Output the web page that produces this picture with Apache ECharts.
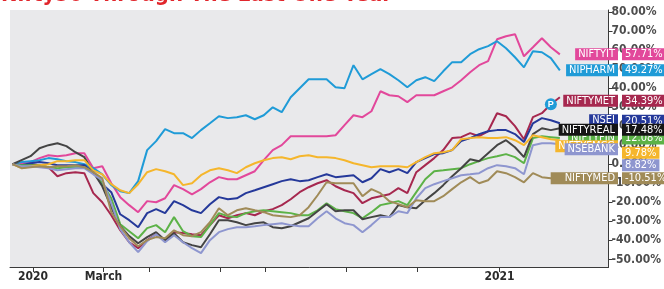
<!DOCTYPE html>
<html>
<head>
<meta charset="utf-8">
<script src="https://cdn.jsdelivr.net/npm/echarts@6/dist/echarts.min.js"></script>
<style>
    html, body { margin: 0; padding: 0; background: #fff; }
    #chart { width: 664px; height: 289px; }
</style>
</head>
<body>
<div id="chart"></div>
<script>
    // weekly closes, % change since the first week
    var dates = ['2019-12-17','2019-12-24','2019-12-31','2020-01-07','2020-01-14','2020-01-21','2020-01-28','2020-02-04','2020-02-11','2020-02-18',
        '2020-02-25','2020-03-03','2020-03-10','2020-03-17','2020-03-24','2020-03-31','2020-04-07','2020-04-14','2020-04-21','2020-04-28',
        '2020-05-05','2020-05-12','2020-05-19','2020-05-26','2020-06-02','2020-06-09','2020-06-16','2020-06-23','2020-06-30','2020-07-07',
        '2020-07-14','2020-07-21','2020-07-28','2020-08-04','2020-08-11','2020-08-18','2020-08-25','2020-09-01','2020-09-08','2020-09-15',
        '2020-09-22','2020-09-29','2020-10-06','2020-10-13','2020-10-20','2020-10-27','2020-11-03','2020-11-10','2020-11-17','2020-11-24',
        '2020-12-01','2020-12-08','2020-12-15','2020-12-22','2020-12-29','2021-01-05','2021-01-12','2021-01-19','2021-01-26','2021-02-02',
        '2021-02-09','2021-02-16'];

    var niftyIT = [0,0.5,1.1,3.2,4.7,4.2,4.7,5.8,5.8,-2.1,
        -1.1,-10,-17.3,-21.5,-25.2,-19.4,-20,-17.9,-11,-13.1,
        -15.8,-13.1,-9.5,-6.8,-7.9,-7.9,-5.8,-3.7,2.1,7.4,
        10,14.7,14.7,14.7,14.7,14.7,15.2,20.5,25.7,24.7,
        27.8,38.3,36.2,35.7,32.6,36.2,36.2,36.2,38.3,40.4,
        44.1,48.3,52,54.1,65.6,67.2,68.3,56.7,61.4,66.2,
        61.4,57.7];
    var niPharm = [0,1.1,1.6,2.1,3.2,2.6,1.6,1.1,0,-2.1,
        -5.3,-11,-14.2,-15.2,-8.9,7.4,12.1,18.4,16.3,16.3,
        13.7,17.9,21.5,25.2,24.2,24.7,25.7,23.6,25.7,29.9,
        27.3,35.2,39.9,44.6,44.6,44.6,40.4,39.9,52,44.6,
        47.3,49.9,47.3,44.1,40.4,44.1,45.7,43.6,48.8,53.6,
        53.6,57.8,60.4,62,64.6,60.9,56.2,50.9,59.3,58.8,
        55.7,49.3];
    var niftyMet = [0,-0.5,0,-0.5,-1.6,-6.3,-4.7,-4.2,-4.7,-15.2,
        -20,-26.8,-34.7,-41,-44.1,-39.9,-36.8,-39.9,-35.7,-36.2,
        -36.8,-37.3,-32,-26.8,-28.4,-26.8,-25.7,-26.8,-24.7,-23.6,
        -21.5,-18.4,-14.7,-12.1,-10,-8.4,-11.6,-13.7,-15.2,-20.5,
        -17.9,-16.8,-15.8,-12.6,-15.2,-4.2,-0.5,3.2,7.4,13.7,
        14.2,16.3,14.7,17.3,26.8,25.2,20,13.1,24.7,26.8,
        31.5,35.2];
    var nsei = [0,-0.5,0.5,1.1,0.5,-0.5,-0.5,-0.5,-0.5,-4.2,
        -10.5,-14.7,-26.3,-29.4,-33.1,-25.7,-23.6,-25.7,-19.4,-21.5,
        -24.2,-25.7,-21,-17.3,-18.4,-17.9,-15.2,-13.7,-12.1,-10.5,
        -8.9,-7.9,-8.9,-8.4,-6.8,-5.3,-6.8,-6.3,-5.8,-9.5,
        -7.4,-2.6,-4.2,-2.6,-4.7,1.1,3.2,5.3,5.8,7.4,
        12.1,13.7,15.8,17.3,17.9,17.9,15.8,11.6,21.5,24.2,
        23.1,21.5];
    var niftyFin = [0,-0.5,-0.5,-0.5,-1.6,-2.1,-1.6,-1.6,-1.6,-4.2,
        -10,-17.9,-31.5,-35.2,-38.9,-33.6,-32,-35.7,-27.8,-35.2,
        -37.8,-38.3,-32,-25.7,-27.3,-27.8,-25.7,-24.7,-24.2,-24.7,
        -25.2,-25.7,-26.8,-26.8,-24.2,-20.5,-23.6,-24.7,-25.7,-28.4,
        -25.2,-21.5,-20.5,-19.4,-21.5,-14.7,-7.9,-3.7,-3.2,-2.6,
        -2.1,0,1.6,3.2,4.2,5.3,3.7,0.5,13.7,14.7,
        14.2,13.7];
    var niftyReal = [0,2.1,4.2,8.4,10,11,9.5,6.3,3.7,-4.2,
        -11.6,-22.6,-32.6,-37.8,-41.5,-38.3,-35.7,-39.9,-36.2,-41,
        -42.5,-43.6,-36.8,-29.4,-29.4,-30.5,-32,-31,-30.5,-33.1,
        -33.6,-32.6,-30.5,-28.4,-24.7,-21,-24.7,-24.2,-24.2,-28.9,
        -27.8,-26.8,-27.8,-21.5,-22.6,-23.1,-18.9,-15.2,-11,-6.3,
        -2.1,2.6,1.6,5.8,10,12.6,8.9,3.7,15.8,18.9,
        17.9,18.9];
    var niftyFmcg = [0,-2.1,-1.1,-0.5,0,1.6,1.6,2.1,2.1,-3.2,
        -5.3,-10.5,-13.7,-15.2,-10.5,-4.2,-2.6,-3.7,-5.3,-11,
        -10,-5.8,-3.2,-2.1,-3.2,-4.7,-1.6,0.5,2.1,3.2,
        3.7,2.6,4.2,4.7,3.7,3.7,3.2,2.1,0.5,-0.5,
        -1.6,-1.1,-1.1,-1.1,-1.6,1.1,3.7,5.8,6.3,7.4,
        13.1,13.7,14.2,13.7,13.7,14.2,12.6,10,15.2,14.2,
        13.1,12.6];
    var nseBank = [0,-1.1,-1.1,-1.6,-2.1,-3.2,-2.6,-2.1,-2.1,-5.3,
        -8.4,-20.5,-34.1,-41,-46.2,-40.4,-36.8,-41,-37.3,-41,
        -44.1,-46.7,-39.9,-35.7,-34.1,-33.1,-33.1,-32.6,-32,-31.5,
        -31,-32,-32.6,-32.6,-28.4,-24.7,-28.4,-31,-32,-35.7,
        -32,-27.8,-27.8,-24.7,-25.7,-17.9,-12.6,-10.5,-8.9,-7.4,
        -5.8,-5.3,-4.7,-2.1,-0.5,-1.1,-2.1,-5.3,10,11,
        11,10.5];
    var niftyMed = [0,-2.1,-1.6,-1.1,-1.6,-1.1,-1.1,-0.5,-1.6,-4.2,
        -7.4,-25.2,-32.6,-38.9,-43.1,-39.9,-38.3,-38.9,-34.7,-37.3,
        -37.8,-35.7,-30.5,-23.1,-26.8,-24.2,-23.1,-24.2,-25.2,-26.8,
        -27.3,-27.8,-26.8,-22.6,-16.3,-9.5,-10,-10,-10,-16.8,
        -13.1,-15.2,-19.4,-21,-22.6,-18.9,-19.4,-19.4,-16.8,-13.1,
        -9.5,-6.8,-10,-8.4,-3.7,-4.7,-6.8,-9.5,-4.7,-6.8,
        -7.4,-7.4];

    var names = ['NIFTYIT', 'NIPHARM', 'NIFTYMET', 'NSEI', 'NIFTYFIN', 'NIFTYREAL', 'NIFTYFMCG', 'NSEBANK', 'NIFTYMED'];
    var endText = ['57.71%', '49.27%', '34.39%', '20.51%', '12.08%', '17.48%', '9.78%', '8.82%', '-10.51%'];
    var values = [niftyIT, niPharm, niftyMet, nsei, niftyFin, niftyReal, niftyFmcg, nseBank, niftyMed];

    var yTicks = [-50, -40, -30, -20, -10, 0, 10, 20, 30, 40, 50, 60, 70, 80];
    var xTickDates = ['2020-01-02', '2020-02-26', '2020-04-02', '2020-05-27', '2020-07-01', '2020-09-02', '2020-10-28', '2020-12-31'];
    var xLabelDates = ['2020-01-02', '2020-02-26', '2020-12-31'];
    var xLabels = ['2020', 'March', '2021'];

    // styling
    var colors = ['#e2489b', '#1f9bd7', '#a6284f', '#25399a', '#5cb247', '#444444', '#f5b62c', '#8e96cf', '#a08b58'];
    var boxColors = ['#e2489b', '#1f9bd7', '#a6284f', '#25399a', '#5cb247', '#151515', '#f5b62c', '#8e96cf', '#a08b58'];
    var nameDy = [0, 0, 3.5, -3, 0, 1.5, 6, 5, 0];
    var valueDy = [0, 0, 3.5, -2.5, 0.5, 1.5, 12.5, 21, 0];
    var namePadLeft = [3, 3, 3, 3, 3, 3, 3, 3, 14];
    var narrow = '"Liberation Sans Narrow", "DejaVu Sans Condensed", sans-serif';

    function toTime(d) { return new Date(d + 'T00:00:00').getTime(); }

    var chart = echarts.init(document.getElementById('chart'));

    var series = values.map(function (arr, i) {
        var s = {
            name: names[i],
            type: 'line',
            data: dates.map(function (d, k) { return [toTime(d), arr[k]]; }),
            showSymbol: false,
            symbol: 'none',
            lineStyle: { color: colors[i], width: 2 },
            itemStyle: { color: colors[i] },
            animation: false,
            z: 2
        };
        if (names[i] === 'NIFTYMET') {
            s.markPoint = {
                silent: true,
                symbol: 'circle',
                symbolSize: 12,
                itemStyle: { color: '#1f9bd7' },
                label: { show: true, formatter: 'P', color: '#fff', fontSize: 9, fontWeight: 'bold' },
                data: [{ coord: [toTime(dates[60]), arr[60]] }]
            };
        }
        return s;
    });

    var option = {
        animation: false,
        backgroundColor: '#fff',
        grid: { left: 10, right: 45, top: 10, bottom: 22, show: true, backgroundColor: '#e9e9eb', borderWidth: 0 },
        xAxis: {
            type: 'value',
            min: toTime('2019-12-15'),
            max: toTime('2021-03-26'),
            axisLine: { show: true, onZero: false, lineStyle: { color: '#3a3a3a', width: 1 } },
            axisTick: { show: true, customValues: xTickDates.map(toTime), length: 5, lineStyle: { color: '#3a3a3a', width: 1 } },
            axisLabel: {
                customValues: xLabelDates.map(toTime),
                margin: 4,
                color: '#2b2b2b',
                fontWeight: 'bold',
                fontSize: 12,
                fontFamily: narrow,
                formatter: function (val) {
                    var i = xLabelDates.map(toTime).indexOf(val);
                    return i >= 0 ? xLabels[i] : '';
                }
            },
            splitLine: { show: false }
        },
        yAxis: {
            type: 'value',
            position: 'right',
            min: -54,
            max: 81,
            axisLine: { show: true, onZero: false, lineStyle: { color: '#3a3a3a', width: 1 } },
            axisTick: { show: true, customValues: yTicks, length: 4, lineStyle: { color: '#3a3a3a' } },
            axisLabel: {
                customValues: yTicks,
                margin: 3,
                color: '#4d4d4d',
                fontWeight: 'bold',
                fontSize: 12,
                fontFamily: narrow,
                formatter: function (v) { return v.toFixed(2) + '%'; }
            },
            splitLine: { show: false }
        },
        series: series
    };
    chart.setOption(option);

    // end labels: name box left of the axis, value box over the tick labels
    var axisX = chart.getWidth() - 45;
    var graphics = [{
        type: 'text', x: 1, y: 6, z: 200,
        style: { text: 'Nifty50 Through The Last One Year', fill: '#e1262c', font: 'bold 22px ' + narrow, verticalAlign: 'bottom' }
    }];
    values.forEach(function (arr, i) {
        var py = chart.convertToPixel({ yAxisIndex: 0 }, arr[arr.length - 1]);
        graphics.push({
            type: 'text', x: axisX - 1, y: py + nameDy[i], z: 100 + i,
            style: {
                text: names[i], align: 'right', verticalAlign: 'middle', fill: '#fff',
                backgroundColor: boxColors[i], padding: [1, 3, 0, namePadLeft[i]],
                font: '11px ' + narrow
            }
        });
        graphics.push({
            type: 'text', x: axisX + 3, y: py + valueDy[i], z: 100 + i,
            style: {
                text: endText[i], align: 'left', verticalAlign: 'middle', fill: '#fff',
                backgroundColor: boxColors[i], padding: [1, 3, 0, 3],
                font: '11px ' + narrow
            }
        });
    });
    chart.setOption({ graphic: graphics });
</script>
</body>
</html>
